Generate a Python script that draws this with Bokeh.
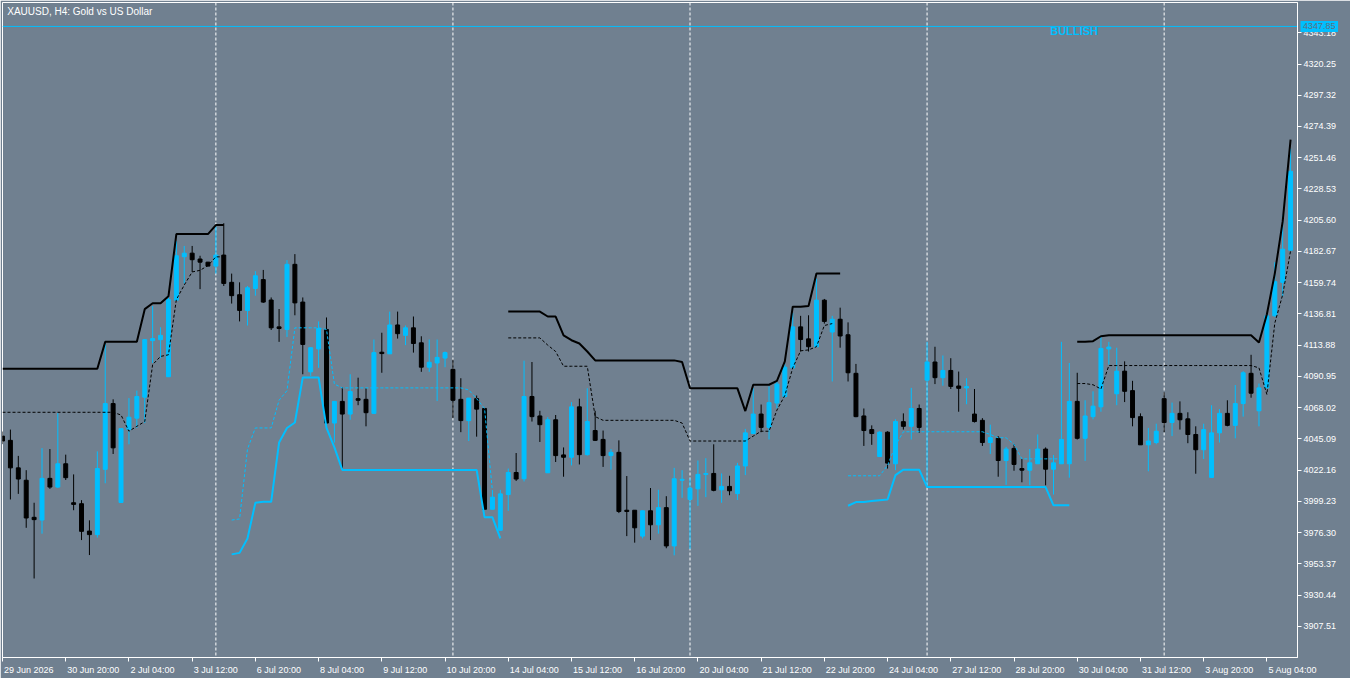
from bokeh.plotting import figure
from bokeh.models import ColumnDataSource, FixedTicker, PrintfTickFormatter, Span, Label
from bokeh.core.properties import value
from bokeh.embed import file_html
from bokeh.resources import INLINE

NA = float("nan")
BG = "#708090"
BULL = "#00BFFF"
BEAR = "#000000"
FONT = "Liberation Sans"

first_bar = 3  # index of first visible H4 bar (29 Jun 2026 12:00)

opens = [
    4047.1, 4044.0, 4023.8, 4014.7, 3987.5, 3985.5, 4016.1, 4009.7, 4026.8, 3998.2,
    3997.5, 3977.4, 3974.8, 4022.7, 4071.0, 3998.4, 4051.9, 4060.3, 4075.7, 4117.2,
    4117.9, 4090.7, 4146.9, 4178.8, 4181.4, 4177.1, 4174.8, 4171.9, 4180.0, 4160.0,
    4150.9, 4139.4, 4155.5, 4162.0, 4147.0, 4127.3, 4125.4, 4173.2, 4145.5, 4094.3,
    4111.1, 4125.4, 4056.7, 4072.6, 4063.3, 4074.6, 4074.1, 4063.8, 4108.7, 4107.5,
    4128.7, 4121.1, 4126.6, 4115.6, 4097.7, 4100.8, 4104.4, 4096.1, 4074.1, 4058.5,
    4074.6, 4067.4, 3993.4, 3978.0, 4004.2, 4020.4, 4015.8, 4076.2, 4061.9, 4020.2,
    4059.1, 4033.3, 4031.6, 4068.6, 4033.5, 4051.2, 4044.7, 4032.8, 4035.2, 3992.7,
    3992.7, 3973.7, 3992.3, 3982.0, 3994.6, 3966.5, 4014.7, 4000.6, 4008.4, 4019.0,
    4019.7, 4007.7, 4010.2, 4004.9, 4025.2, 4049.0, 4063.3, 4053.5, 4071.4, 4076.2,
    4097.2, 4127.3, 4118.5, 4112.7, 4146.9, 4123.5, 4132.9, 4121.5, 4093.2, 4061.9,
    4051.9, 4032.1, 4050.0, 4026.8, 4057.7, 4054.3, 4067.4, 4088.2, 4101.5, 4090.0,
    4095.3, 4083.9, 4082.5, 4063.3, 4058.7, 4042.4, 4045.5, 4029.2, 4038.1, 4023.3,
    4022.1, 4026.8, 4037.6, 4022.8, 4026.8, 4026.8, 4072.6, 4045.5, 4061.4, 4068.6,
    4111.1, 4078.2, 4094.8, 4080.5, 4061.4, 4040.7, 4042.4, 4074.6, 4057.1, 4063.8,
    4059.8, 4048.3, 4037.1, 4016.8, 4049.5, 4063.8, 4055.0, 4071.0, 4093.2, 4065.7,
    4082.5, 4135.4, 4160.0, 4183.6,
]
highs = [
    4050.5, 4051.9, 4032.6, 4022.1, 3998.2, 4038.3, 4037.6, 4064.0, 4033.5, 4019.0,
    4000.1, 3985.3, 4035.9, 4115.1, 4074.1, 4052.6, 4075.0, 4080.5, 4118.2, 4142.6,
    4127.0, 4149.7, 4190.2, 4186.7, 4186.7, 4179.5, 4175.0, 4201.0, 4203.4, 4166.4,
    4160.0, 4157.3, 4168.2, 4169.1, 4148.9, 4140.4, 4176.3, 4180.7, 4148.9, 4112.3,
    4131.3, 4134.2, 4072.6, 4082.9, 4092.5, 4090.0, 4082.2, 4118.0, 4123.0, 4138.5,
    4138.5, 4128.3, 4134.9, 4120.4, 4118.0, 4118.0, 4109.2, 4103.2, 4089.6, 4075.0,
    4076.9, 4067.4, 4007.0, 4007.7, 4023.3, 4034.7, 4102.5, 4101.5, 4065.7, 4061.0,
    4062.6, 4038.8, 4072.1, 4074.6, 4082.2, 4065.7, 4051.2, 4037.6, 4044.0, 4017.8,
    3992.7, 3992.3, 4009.0, 4007.7, 4003.0, 4023.8, 4022.1, 4016.1, 4029.2, 4030.9,
    4041.1, 4019.7, 4018.0, 4027.5, 4052.4, 4082.2, 4070.3, 4083.6, 4087.2, 4100.1,
    4137.6, 4135.4, 4135.8, 4162.7, 4147.8, 4135.4, 4141.4, 4130.6, 4100.1, 4067.4,
    4055.0, 4050.7, 4050.7, 4059.5, 4063.8, 4082.5, 4070.3, 4116.3, 4112.7, 4106.3,
    4104.3, 4094.5, 4089.6, 4081.7, 4060.3, 4055.5, 4047.1, 4039.2, 4041.1, 4030.4,
    4037.6, 4048.3, 4038.8, 4033.3, 4116.3, 4100.8, 4093.6, 4073.4, 4080.0, 4119.9,
    4116.3, 4112.0, 4102.0, 4087.7, 4063.8, 4053.1, 4056.2, 4079.3, 4071.7, 4072.6,
    4064.6, 4054.3, 4056.2, 4069.8, 4066.9, 4073.4, 4084.6, 4094.8, 4106.8, 4085.7,
    4137.3, 4174.8, 4209.3, 4258.1,
]
lows = [
    4041.2, 4000.6, 4004.7, 3979.8, 3942.6, 3975.5, 4008.4, 4009.0, 4014.9, 3992.7,
    3970.8, 3959.8, 3972.6, 4012.5, 4034.0, 3998.4, 4041.1, 4053.1, 4056.7, 4100.8,
    4104.3, 4090.7, 4146.9, 4159.2, 4167.6, 4155.0, 4171.8, 4166.4, 4157.3, 4144.4,
    4131.3, 4128.3, 4150.2, 4144.9, 4125.0, 4116.3, 4119.9, 4135.8, 4092.5, 4091.3,
    4097.2, 4056.7, 4042.4, 4023.3, 4059.1, 4069.8, 4054.3, 4063.8, 4093.6, 4107.5,
    4118.7, 4113.9, 4108.4, 4094.3, 4094.3, 4072.9, 4097.7, 4060.3, 4050.0, 4043.5,
    4046.7, 3993.4, 3993.4, 3978.0, 3992.3, 4014.2, 4013.8, 4057.8, 4042.8, 4020.2,
    4028.1, 4017.3, 4025.6, 4026.3, 4032.8, 4043.5, 4024.5, 4022.5, 3990.6, 3973.7,
    3968.9, 3972.0, 3970.8, 3975.5, 3964.8, 3959.6, 4001.8, 3964.1, 3995.9, 4002.3,
    4006.6, 3998.2, 4003.7, 4000.2, 4018.5, 4049.0, 4050.0, 4044.6, 4067.4, 4075.3,
    4097.2, 4109.2, 4109.2, 4112.7, 4129.7, 4087.2, 4112.0, 4087.2, 4061.0, 4039.9,
    4040.7, 4032.1, 4023.3, 4022.1, 4051.9, 4044.6, 4049.5, 4009.7, 4085.3, 4084.1,
    4081.7, 4065.0, 4070.5, 4057.1, 4039.9, 4034.0, 4017.3, 4011.3, 4021.7, 4013.2,
    4011.0, 4026.8, 4011.0, 4004.2, 4026.8, 4016.6, 4044.6, 4028.9, 4059.5, 4065.0,
    4099.6, 4069.8, 4072.1, 4054.3, 4040.7, 4021.3, 4041.1, 4050.0, 4047.1, 4051.9,
    4041.9, 4019.5, 4030.3, 4016.8, 4042.4, 4054.3, 4045.5, 4061.4, 4075.3, 4054.3,
    4082.5, 4134.9, 4149.7, 4183.6,
]
closes = [
    4043.5, 4023.8, 4015.6, 3987.0, 3985.8, 4016.1, 4009.7, 4026.8, 4016.6, 3997.0,
    3977.2, 3974.8, 4023.3, 4071.0, 4038.5, 4052.6, 4061.0, 4076.2, 4117.9, 4118.7,
    4121.1, 4147.3, 4179.5, 4181.4, 4176.6, 4174.8, 4171.9, 4180.0, 4159.2, 4150.2,
    4139.4, 4156.0, 4164.8, 4145.5, 4126.6, 4126.1, 4173.2, 4144.9, 4114.4, 4112.0,
    4126.1, 4056.7, 4072.6, 4063.3, 4079.8, 4073.4, 4064.3, 4108.4, 4107.7, 4128.7,
    4122.3, 4126.6, 4115.1, 4097.7, 4101.3, 4104.9, 4108.4, 4073.4, 4058.5, 4075.0,
    4066.9, 3993.4, 4002.3, 4004.7, 4020.4, 4015.6, 4076.2, 4061.4, 4055.5, 4059.1,
    4032.8, 4031.6, 4068.6, 4033.5, 4057.8, 4044.0, 4032.8, 4035.2, 3991.8, 3991.8,
    3979.8, 3992.3, 3982.0, 3994.6, 3966.5, 4015.8, 4015.4, 4009.0, 4019.0, 4019.7,
    4007.3, 4010.2, 4007.0, 4025.2, 4049.5, 4063.3, 4053.5, 4071.7, 4085.3, 4097.7,
    4127.3, 4118.0, 4112.7, 4146.9, 4131.3, 4132.9, 4120.6, 4093.6, 4061.4, 4051.2,
    4049.0, 4050.0, 4027.3, 4057.8, 4054.3, 4067.4, 4053.5, 4101.5, 4090.0, 4095.3,
    4083.6, 4082.2, 4083.4, 4057.8, 4042.4, 4046.0, 4029.2, 4037.6, 4026.3, 4022.1,
    4027.5, 4037.6, 4022.8, 4027.5, 4044.7, 4072.6, 4045.5, 4061.9, 4069.1, 4111.5,
    4112.5, 4094.8, 4080.0, 4060.7, 4040.7, 4043.5, 4050.7, 4057.1, 4063.8, 4059.1,
    4048.3, 4037.1, 4051.9, 4049.5, 4063.8, 4055.0, 4071.0, 4093.6, 4078.6, 4082.5,
    4135.4, 4160.5, 4184.3, 4241.5,
]

# indicator: upper band (thick black)
upper_band = [
    4096.6, 4096.6, 4096.6, 4096.6, 4096.6, 4096.6, 4096.6, 4096.6, 4096.6, 4096.6,
    4096.6, 4096.6, 4096.6, 4116.3, 4116.3, 4116.3, 4116.3, 4116.3, 4140.3, 4144.6,
    4144.6, 4149.7, 4195.4, 4195.4, 4195.4, 4195.4, 4195.4, 4202.0, 4202.0, NA,
    NA, NA, NA, NA, NA, NA, NA, NA, NA, NA,
    NA, NA, NA, NA, NA, NA, NA, NA, NA, NA,
    NA, NA, NA, NA, NA, NA, NA, NA, NA, NA,
    NA, NA, NA, NA, 4138.5, 4138.5, 4138.5, 4138.5, 4138.5, 4134.9,
    4134.9, 4121.1, 4117.5, 4115.1, 4109.2, 4102.7, 4102.7, 4102.7, 4102.7, 4102.7,
    4102.7, 4102.7, 4102.7, 4102.7, 4102.7, 4102.7, 4101.5, 4082.2, 4082.2, 4082.2,
    4082.2, 4082.2, 4082.2, 4082.2, 4065.5, 4084.8, 4084.8, 4084.8, 4087.7, 4102.0,
    4142.1, 4142.1, 4142.6, 4166.4, 4166.4, 4166.4, 4166.4, NA, NA, NA,
    NA, NA, NA, NA, NA, NA, NA, NA, NA, NA,
    NA, NA, NA, NA, NA, NA, NA, NA, NA, NA,
    NA, NA, NA, NA, NA, NA, 4116.3, 4116.3, 4116.8, 4120.4,
    4121.1, 4121.1, 4121.1, 4121.1, 4121.1, 4121.1, 4121.1, 4121.1, 4121.1, 4121.1,
    4121.1, 4121.1, 4121.1, 4121.1, 4121.1, 4121.1, 4121.1, 4121.1, 4121.1, 4115.8,
    4136.6, 4166.4, 4204.7, 4264.8,
]
# indicator: middle line (thin dashed black)
middle_band = [
    4064.6, 4064.6, 4064.6, 4064.6, 4064.6, 4064.6, 4064.6, 4064.6, 4064.6, 4064.6,
    4064.6, 4064.6, 4064.6, 4064.6, 4064.6, 4062.6, 4050.7, 4054.3, 4057.8, 4099.6,
    4105.6, 4106.8, 4147.3, 4158.0, 4167.6, 4168.8, 4172.3, 4178.7, 4178.7, NA,
    NA, NA, NA, NA, NA, NA, NA, NA, NA, NA,
    NA, NA, NA, NA, NA, NA, NA, NA, NA, NA,
    NA, NA, NA, NA, NA, NA, NA, NA, NA, NA,
    NA, NA, NA, NA, 4119.2, 4119.2, 4119.2, 4119.2, 4119.2, 4113.9,
    4109.2, 4098.4, 4098.4, 4098.4, 4098.4, 4061.4, 4058.7, 4058.7, 4058.7, 4058.7,
    4058.7, 4058.7, 4058.7, 4058.7, 4058.7, 4058.7, 4056.7, 4043.5, 4043.5, 4043.5,
    4043.5, 4043.5, 4043.5, 4043.5, 4043.5, 4047.1, 4050.7, 4050.7, 4066.2, 4076.9,
    4097.2, 4109.7, 4110.4, 4112.7, 4128.3, 4129.7, NA, NA, NA, NA,
    NA, NA, NA, NA, NA, NA, NA, NA, NA, NA,
    NA, NA, NA, NA, NA, NA, NA, NA, NA, NA,
    NA, NA, NA, NA, NA, NA, 4085.7, 4085.7, 4084.8, 4081.7,
    4098.9, 4098.9, 4098.9, 4098.9, 4098.9, 4098.9, 4098.9, 4098.9, 4098.9, 4098.9,
    4098.9, 4098.9, 4098.9, 4098.9, 4098.9, 4098.9, 4098.9, 4098.9, 4098.9, 4097.2,
    4077.7, 4130.0, 4150.9, 4183.1,
]
# indicator: lower band (thick cyan)
lower_band = [
    NA, NA, NA, NA, NA, NA, NA, NA, NA, NA,
    NA, NA, NA, NA, NA, NA, NA, NA, NA, NA,
    NA, NA, NA, NA, NA, NA, NA, NA, NA, 3960.3,
    3961.4, 3972.0, 3998.2, 3998.9, 3998.9, 4042.4, 4053.1, 4057.1, 4090.2, 4090.2,
    4090.2, 4053.1, 4038.8, 4022.3, 4022.3, 4022.3, 4022.3, 4022.3, 4022.3, 4022.3,
    4022.3, 4022.3, 4022.3, 4022.3, 4022.3, 4022.3, 4022.3, 4022.3, 4022.3, 4022.3,
    4022.3, 3987.5, 3987.5, 3972.0, NA, NA, NA, NA, NA, NA,
    NA, NA, NA, NA, NA, NA, NA, NA, NA, NA,
    NA, NA, NA, NA, NA, NA, NA, NA, NA, NA,
    NA, NA, NA, NA, NA, NA, NA, NA, NA, NA,
    NA, NA, NA, NA, NA, NA, NA, 3996.0, 3998.7, 3998.7,
    3999.4, 4000.1, 4000.6, 4018.5, 4022.5, 4022.5, 4022.5, 4009.7, 4009.7, 4009.7,
    4009.7, 4009.7, 4009.7, 4009.7, 4009.7, 4009.7, 4009.7, 4009.7, 4009.7, 4009.7,
    4009.7, 4009.7, 4009.7, 3996.3, 3996.3, 3996.3, NA, NA, NA, NA,
    NA, NA, NA, NA, NA, NA, NA, NA, NA, NA,
    NA, NA, NA, NA, NA, NA, NA, NA, NA, NA,
    NA, NA, NA, NA,
]
# indicator: lower signal (thin dashed cyan)
lower_signal = [
    NA, NA, NA, NA, NA, NA, NA, NA, NA, NA,
    NA, NA, NA, NA, NA, NA, NA, NA, NA, NA,
    NA, NA, NA, NA, NA, NA, NA, NA, NA, 3985.5,
    3986.3, 4037.6, 4053.1, 4053.1, 4053.1, 4073.4, 4080.5, 4126.6, 4126.6, 4126.6,
    4126.6, 4125.4, 4085.3, 4082.5, 4082.5, 4082.5, 4082.5, 4082.5, 4082.5, 4082.5,
    4082.5, 4082.5, 4082.5, 4082.5, 4082.5, 4082.5, 4082.5, 4082.5, 4082.5, 4081.0,
    4074.6, 4067.4, 4006.6, NA, NA, NA, NA, NA, NA, NA,
    NA, NA, NA, NA, NA, NA, NA, NA, NA, NA,
    NA, NA, NA, NA, NA, NA, NA, NA, NA, NA,
    NA, NA, NA, NA, NA, NA, NA, NA, NA, NA,
    NA, NA, NA, NA, NA, NA, NA, 4018.0, 4018.0, 4018.0,
    4018.0, 4018.0, 4025.6, 4040.3, 4050.3, 4050.3, 4050.3, 4050.3, 4050.3, 4050.3,
    4050.3, 4050.3, 4050.3, 4050.3, 4050.3, 4048.3, 4045.9, 4045.9, 4041.1, 4030.4,
    4030.4, 4030.4, 4030.4, 4030.4, 4030.4, NA, NA, NA, NA, NA,
    NA, NA, NA, NA, NA, NA, NA, NA, NA, NA,
    NA, NA, NA, NA, NA, NA, NA, NA, NA, NA,
    NA, NA, NA, NA,
]

tick_bars = [3, 11, 19, 27, 35, 43, 51, 59, 67, 75, 83, 91, 99, 107, 115, 123, 131, 139, 147, 155, 163]
tick_labels = ["29 Jun 2026", "30 Jun 20:00", "2 Jul 04:00", "3 Jul 12:00", "6 Jul 20:00",
               "8 Jul 04:00", "9 Jul 12:00", "10 Jul 20:00", "14 Jul 04:00", "15 Jul 12:00",
               "16 Jul 20:00", "20 Jul 04:00", "21 Jul 12:00", "22 Jul 20:00", "24 Jul 04:00",
               "27 Jul 12:00", "28 Jul 20:00", "30 Jul 04:00", "31 Jul 12:00", "3 Aug 20:00",
               "5 Aug 04:00"]
price_ticks = [4343.18, 4320.25, 4297.32, 4274.39, 4251.46, 4228.53, 4205.60, 4182.67,
               4159.74, 4136.81, 4113.88, 4090.95, 4068.02, 4045.09, 4022.16, 3999.23,
               3976.30, 3953.37, 3930.44, 3907.51]
week_starts = [30, 60, 90, 120, 150]
signal_level = 4347.85
signal_text = "BULLISH"
title_text = "XAUUSD, H4:  Gold vs US Dollar"

# ---- layout constants ----
W, H = 1350, 678
BORDER_L, BORDER_T, BORDER_R, BORDER_B = 2, 2, 53, 21
X0, X1 = 3.0, 166.875
Y0, Y1 = 3884.6, 4365.4
FRAME_W = W - BORDER_L - BORDER_R
FRAME_H = H - BORDER_T - BORDER_B
PX_PER_BAR = FRAME_W / (X1 - X0)
PX_PER_USD = FRAME_H / (Y1 - Y0)
LABEL_PX = 9

# approximate Arial/Liberation Sans advance widths (per 1000 em)
_adv = {" ": 278, ":": 278, ".": 278, "J": 500, "A": 667, "u": 556, "n": 556, "l": 222, "g": 556}


def text_width(s, size=LABEL_PX):
    return sum(_adv.get(ch, 556) for ch in s) * size / 1000.0


# axis labels sit to the right of their tick (MetaTrader style)
label_centers = [round(b + (1.5 + text_width(t) / 2) / PX_PER_BAR, 4)
                 for b, t in zip(tick_bars, tick_labels)]

bars = list(range(first_bar, first_bar + len(opens)))
is_up = [c >= o for o, c in zip(opens, closes)]
src = ColumnDataSource(dict(
    x=bars, o=opens, h=highs, l=lows, c=closes,
    top=[max(o, c) for o, c in zip(opens, closes)],
    bottom=[min(o, c) for o, c in zip(opens, closes)],
    color=[BULL if u else BEAR for u in is_up],
))

p = figure(width=W, height=H, x_range=(X0, X1), y_range=(Y0, Y1),
           y_axis_location="right", output_backend="svg", toolbar_location=None,
           background_fill_color=BG, border_fill_color=BG,
           min_border_left=BORDER_L, min_border_top=BORDER_T,
           min_border_right=BORDER_R, min_border_bottom=BORDER_B)
p.grid.visible = False
p.outline_line_color = "white"
p.outline_line_width = 1

for ax in (p.xaxis[0], p.yaxis[0]):
    ax.axis_line_color = "white"
    ax.major_tick_line_color = "white"
    ax.major_tick_out = 4
    ax.major_tick_in = 0
    ax.minor_tick_line_color = None
    ax.major_label_text_color = "white"
    ax.major_label_text_font = FONT
    ax.major_label_text_font_size = "%dpx" % LABEL_PX
    ax.major_label_standoff = 2

xa = p.xaxis[0]
xa.ticker = FixedTicker(ticks=label_centers, minor_ticks=tick_bars)
xa.major_label_overrides = {c: t for c, t in zip(label_centers, tick_labels)}
xa.major_tick_line_color = None
xa.minor_tick_line_color = "white"
xa.minor_tick_out = 4
xa.minor_tick_in = 0
xa.major_label_standoff = 3

ya = p.yaxis[0]
ya.ticker = FixedTicker(ticks=price_ticks)
ya.formatter = PrintfTickFormatter(format="%.2f")

for b in week_starts:
    p.add_layout(Span(location=b, dimension="height", line_color="white",
                      line_width=1, line_dash="3 2", level="underlay"))
p.add_layout(Span(location=signal_level, dimension="width", line_color=BULL,
                  line_width=1, level="underlay"))

p.segment(x0="x", y0="h", x1="x", y1="l", line_color="color", line_width=1, source=src)
p.vbar(x="x", width=0.5, top="top", bottom="bottom", fill_color="color",
       line_color="color", line_width=1, source=src)

p.line(bars, upper_band, line_color="black", line_width=2)
p.line(bars, middle_band, line_color="black", line_width=1, line_dash="3 2")
p.line(bars, lower_band, line_color=BULL, line_width=2)
p.line(bars, lower_signal, line_color=BULL, line_width=1, line_dash="3 2")

p.add_layout(Label(x=3.6, y=4363.0, text=title_text, text_color="white",
                   text_font=FONT, text_font_size="10px", text_baseline="top"))
p.add_layout(Label(x=135.6, y=4344.3, text=signal_text, text_color=BULL,
                   text_font=FONT, text_font_size="11px", text_font_style="bold",
                   text_baseline="middle"))

# price tag on the price scale: drawn at overlay level so it may sit outside the frame
tag_text = "%.2f" % signal_level
tag_left = X1 + 3.0 / PX_PER_BAR
tag_right = tag_left + (text_width(tag_text) + 5.0) / PX_PER_BAR
tag_half = 5.5 / PX_PER_USD
tag_src = ColumnDataSource(dict(l=[tag_left], r=[tag_right], t=[signal_level + tag_half],
                                b=[signal_level - tag_half], x=[tag_left + 2.5 / PX_PER_BAR],
                                y=[signal_level], s=[tag_text]))
p.quad(left="l", right="r", top="t", bottom="b", fill_color=BULL, line_color=None,
       source=tag_src, level="overlay")
p.text(x="x", y="y", text="s", text_color="#5f6f80", text_font=value(FONT),
       text_font_size="%dpx" % LABEL_PX, text_baseline="middle", text_align="left",
       source=tag_src, level="overlay")

open("out.html", "w").write(file_html(p, INLINE))
